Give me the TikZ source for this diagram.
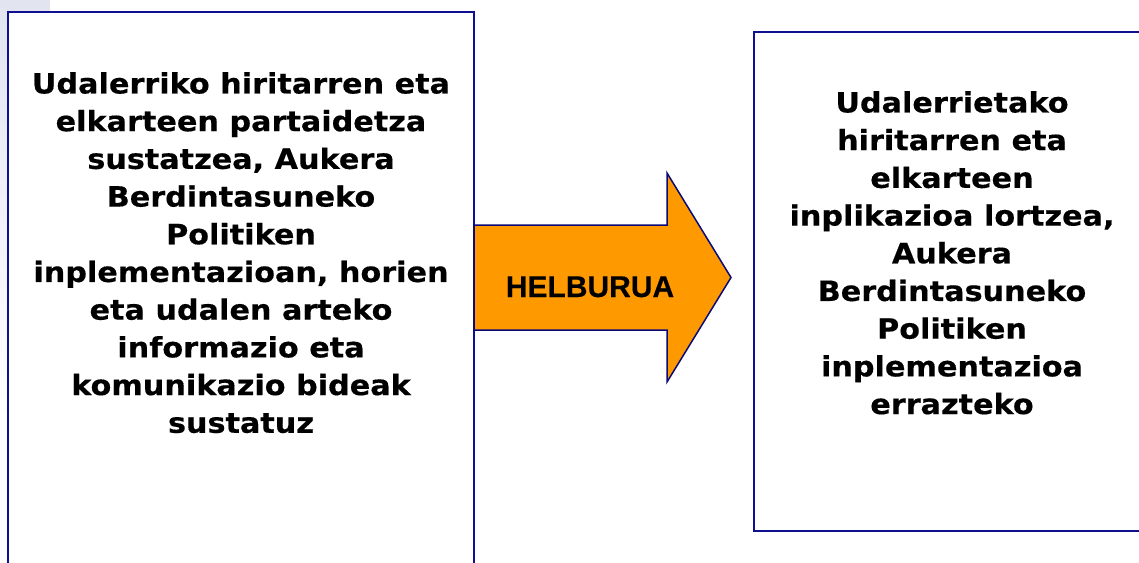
\documentclass[tikz,border=0pt]{standalone}
\usepackage{fontspec}
\newfontfamily\boxfont[FakeStretch=1.08,FakeBold=0.4]{DejaVu Sans Bold}
\newfontfamily\arrowfont[FakeBold=0.4]{Liberation Sans Bold}
\definecolor{boxblue}{RGB}{15,15,145}
\definecolor{arrowline}{RGB}{10,10,120}
\definecolor{arroworange}{RGB}{255,153,0}
\definecolor{sidetint}{RGB}{226,228,240}
\begin{document}
\begin{tikzpicture}[x=1pt,y=-1pt,
  frame/.style={draw=boxblue,line width=2.5pt},
  boxtext/.style={align=center,inner sep=0pt,anchor=north,
    font=\boxfont\fontsize{28}{37.7}\selectfont},
  arrowtext/.style={inner sep=0pt,anchor=base,
    font=\arrowfont\fontsize{30}{36}\selectfont}]
\useasboundingbox (0,0) rectangle (1139,562);
\clip (0,0) rectangle (1139,562);
\fill[white] (0,0) rectangle (1139,562);
\fill[sidetint] (0,0) rectangle (50,12);
\shade[top color=sidetint,bottom color=white] (0,0) rectangle (7,420);
% boxes
\draw[frame] (8,12) rectangle (474,600);
\draw[frame] (754,32) rectangle (1160,531);
% arrow
\draw[fill=arroworange,draw=arrowline,line width=1.5pt,line join=miter]
  (474,225) -- (667,225) -- (667,173) -- (731,277.5) -- (667,382) -- (667,330) -- (474,330) -- cycle;
\node[arrowtext] (goal) at (590,297) {HELBURUA};
\node[boxtext] (left) at (241,72) {Udalerriko hiritarren eta\\elkarteen partaidetza\\sustatzea, Aukera\\Berdintasuneko\\Politiken\\inplementazioan, horien\\eta udalen arteko\\informazio eta\\komunikazio bideak\\sustatuz};
\node[boxtext] (right) at (952,91) {Udalerrietako\\hiritarren eta\\elkarteen\\inplikazioa lortzea,\\Aukera\\Berdintasuneko\\Politiken\\inplementazioa\\errazteko};
\end{tikzpicture}
\end{document}
